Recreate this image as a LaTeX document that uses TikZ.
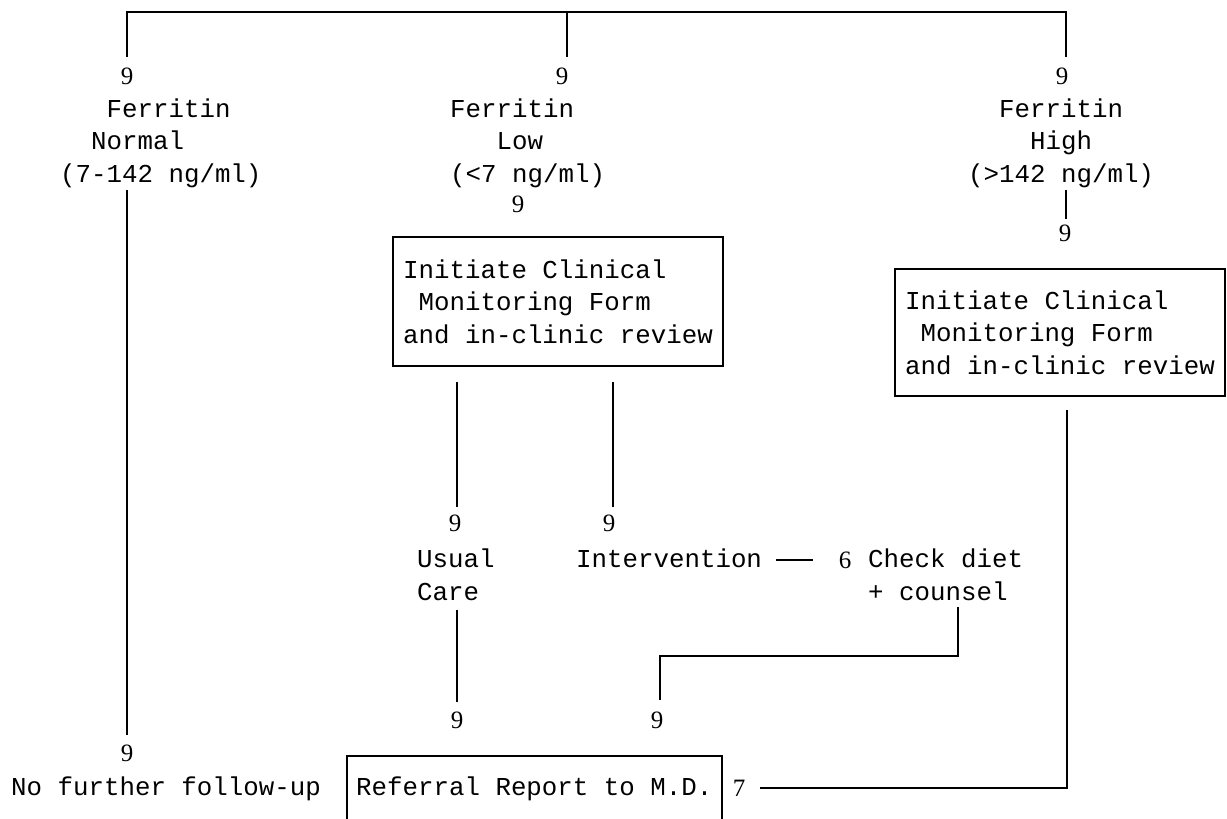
\documentclass[tikz,border=0pt]{standalone}
\usepackage{fontspec}
\newfontfamily\monofont{Liberation Mono}
\newfontfamily\digfont{Liberation Serif}
\begin{document}
\begin{tikzpicture}[x=1pt,y=-1pt,
  mono/.style={font=\monofont\fontsize{25.8}{32.5}\selectfont, inner sep=0pt, align=left, anchor=base west},
  dig/.style={font=\digfont\fontsize{25}{28}\selectfont, inner sep=0pt, anchor=base},
  ln/.style={line width=2pt},
  boxnode/.style={font=\monofont\fontsize{25.8}{32.5}\selectfont, align=left, draw, line width=2pt, inner sep=0pt, minimum width=330pt}]
\useasboundingbox (0,0) rectangle (1227,819);

% top bracket
\coordinate (tl) at (127,12);
\coordinate (tr) at (1066,12);
\coordinate (tm) at (567,12);
\node[dig] (n9a) at (127,84) {9};
\node[dig] (n9b) at (562,84) {9};
\node[dig] (n9c) at (1062,84) {9};
\draw[ln] (127,57) -- (tl) -- (tr) -- (1066,57);
\draw[ln] (tm) -- (567,57);

% ferritin blocks (anchor = baseline of last line)
\node[mono] (fn) at (60,182) {\phantom{xxx}Ferritin\\\phantom{xx}Normal\\(7-142 ng/ml)};
\node[mono] (fl) at (450,182) {Ferritin\\\phantom{xxx}Low\\(<7 ng/ml)};
\node[mono] (fh) at (968,182) {\phantom{xx}Ferritin\\\phantom{xxxx}High\\(>142 ng/ml)};

% low branch
\node[dig] (n9d) at (518,212) {9};
\node[boxnode, minimum height=129pt] (box1) at (558,301.5) {Initiate Clinical\\\phantom{x}Monitoring Form\\and in-clinic review};

% high branch
\coordinate (h1) at (1066,190);
\coordinate (h2) at (1066,219);
\draw[ln] (h1) -- (h2);
\node[dig] (n9e) at (1065,241) {9};
\node[boxnode, minimum height=127pt] (box2) at (1060,332.5) {Initiate Clinical\\\phantom{x}Monitoring Form\\and in-clinic review};

% below box1
\coordinate (u1) at (457,382);
\coordinate (u2) at (457,507);
\coordinate (i1) at (613,382);
\coordinate (i2) at (613,507);
\draw[ln] (u1) -- (u2);
\draw[ln] (i1) -- (i2);
\node[dig] (n9f) at (455,531) {9};
\node[dig] (n9g) at (609,531) {9};
\node[mono] (usual) at (417,600) {Usual\\Care};
\node[mono] (interv) at (576,567) {Intervention};
\node[dig] (n6) at (845,568) {6};
\node[mono] (check) at (868,600) {Check diet\\+ counsel};
\draw[ln] (776,560) -- (813,560);

% to referral
\coordinate (c1) at (958,607);
\coordinate (c2) at (958,656);
\coordinate (c3) at (660,656);
\coordinate (c4) at (660,700);
\draw[ln] (c1) -- (c2) -- (c3) -- (c4);
\coordinate (uc1) at (457,610);
\coordinate (uc2) at (457,702);
\draw[ln] (uc1) -- (uc2);
\node[dig] (n9h) at (457,728) {9};
\node[dig] (n9i) at (657,728) {9};

% left long line
\coordinate (l1) at (127,190);
\coordinate (l2) at (127,735);
\draw[ln] (l1) -- (l2);
\node[dig] (n9j) at (127,761) {9};
\node[mono] (nofu) at (11,795) {No further follow-up};

% referral box (open at bottom)
\node[mono] (ref) at (356,795) {Referral Report to M.D.};
\draw[ln] (347,819) -- (347,756) -- (722,756) -- (722,819);
\node[dig] (n7) at (739,796) {7};
\coordinate (r1) at (760,788);
\coordinate (r2) at (1067,788);
\coordinate (r3) at (1067,410);
\draw[ln] (r1) -- (r2) -- (r3);
\end{tikzpicture}
\end{document}
